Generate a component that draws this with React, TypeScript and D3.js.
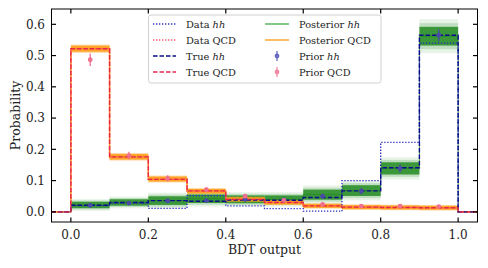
import * as d3 from 'd3';

// bin edges of the BDT output histogram
const binEdges = [0, 0.1, 0.2, 0.3, 0.4, 0.5, 0.6, 0.7, 0.8, 0.9, 1.0];
const binCenters = [0.05, 0.15, 0.25, 0.35, 0.45, 0.55, 0.65, 0.75, 0.85, 0.95];

const dataHh = [0.02, 0.028, 0.011, 0.052, 0.019, 0.01, 0.002, 0.1, 0.222, 0.54];
const dataQcd = [0.522, 0.176, 0.105, 0.066, 0.04, 0.03, 0.019, 0.015, 0.014, 0.013];
const trueHh = [0.021, 0.03, 0.036, 0.034, 0.038, 0.037, 0.046, 0.067, 0.141, 0.565];
const trueQcd = [0.522, 0.176, 0.104, 0.067, 0.04, 0.03, 0.019, 0.015, 0.014, 0.013];

const postHhMean = [0.022, 0.03, 0.036, 0.042, 0.04, 0.04, 0.055, 0.068, 0.139, 0.562];
const postHhSd = [0.009, 0.009, 0.012, 0.012, 0.011, 0.011, 0.014, 0.015, 0.017, 0.026];
const postQcdMean = [0.522, 0.176, 0.105, 0.066, 0.04, 0.03, 0.019, 0.015, 0.014, 0.013];
const postQcdSd = [0.012, 0.011, 0.01, 0.009, 0.008, 0.008, 0.008, 0.008, 0.008, 0.008];

const priorHh = [0.021, 0.028, 0.035, 0.036, 0.04, 0.038, 0.05, 0.066, 0.139, 0.565];
const priorHhErr = [0.006, 0.006, 0.006, 0.007, 0.007, 0.007, 0.008, 0.01, 0.013, 0.019];
const priorQcd = [0.487, 0.18, 0.107, 0.071, 0.05, 0.037, 0.024, 0.018, 0.018, 0.017];
const priorQcdErr = [0.02, 0.012, 0.01, 0.008, 0.007, 0.006, 0.005, 0.004, 0.004, 0.004];

const xTicks = [0, 0.2, 0.4, 0.6, 0.8, 1.0];
const yTicks = [0, 0.1, 0.2, 0.3, 0.4, 0.5, 0.6];

const W = 488, H = 268;
const L = 51.5, R = 477.5, T = 9, B = 222;

const C = {
  dataHh: '#2b2bc4',
  dataQcd: '#ff4f6e',
  trueHh: '#0b0b8c',
  trueQcd: '#e8264a',
  postHh: '#228b22',
  postQcd: '#ffa020',
  priorHh: '#4a4aa6',
  priorQcd: '#ef6f8f',
};

const font = '"DejaVu Serif", serif';

export default function App() {
  const x = d3.scaleLinear().domain([-0.05, 1.05]).range([L, R]);
  const y = d3.scaleLinear().domain([-0.0325, 0.649]).range([B, T]);

  const stepPath = (vals: number[]) => {
    const line = d3.line<[number, number]>().x(d => x(d[0])).y(d => y(d[1])).curve(d3.curveStepAfter);
    const pts: [number, number][] = [[-0.05, 0], [0, 0]];
    vals.forEach((v, i) => pts.push([binEdges[i], v]));
    pts.push([1.0, 0], [1.05, 0]);
    return line(pts) as string;
  };

  const bands = (mean: number[], sd: number[], color: string, layers: [number, number][]) =>
    layers.map(([k, op], li) => (
      <g key={li}>
        {mean.map((m, i) => (
          <rect key={i} x={x(binEdges[i])} width={x(binEdges[i + 1]) - x(binEdges[i])}
            y={y(m + k * sd[i])} height={y(m - k * sd[i]) - y(m + k * sd[i])}
            fill={color} opacity={op} />
        ))}
      </g>
    ));

  const points = (vals: number[], errs: number[], color: string) =>
    vals.map((v, i) => (
      <g key={i}>
        <line x1={x(binCenters[i])} x2={x(binCenters[i])} y1={y(v - errs[i])} y2={y(v + errs[i])}
          stroke={color} strokeWidth={1.3} />
        <circle cx={x(binCenters[i])} cy={y(v)} r={2.4} fill={color} />
      </g>
    ));

  const legendRows1 = [
    { label: 'Data ', it: 'hh', kind: 'dot', color: C.dataHh },
    { label: 'Data QCD', it: '', kind: 'dot', color: C.dataQcd },
    { label: 'True ', it: 'hh', kind: 'dash', color: C.trueHh },
    { label: 'True QCD', it: '', kind: 'dash', color: C.trueQcd },
  ];
  const legendRows2 = [
    { label: 'Posterior ', it: 'hh', kind: 'line', color: '#4caf50' },
    { label: 'Posterior QCD', it: '', kind: 'line', color: C.postQcd },
    { label: 'Prior ', it: 'hh', kind: 'pt', color: '#6a6abf' },
    { label: 'Prior QCD', it: '', kind: 'pt', color: '#f08aa4' },
  ];

  const handle = (kind: string, color: string, x0: number, x1: number, yy: number) => {
    if (kind === 'pt') {
      const cx = (x0 + x1) / 2;
      return (
        <g>
          <line x1={cx} x2={cx} y1={yy - 5} y2={yy + 5} stroke={color} strokeWidth={1.3} />
          <circle cx={cx} cy={yy} r={2.4} fill={color} />
        </g>
      );
    }
    const dash = kind === 'dot' ? '1.3,1.7' : kind === 'dash' ? '4.5,2' : undefined;
    return <line x1={x0} x2={x1} y1={yy} y2={yy} stroke={color} strokeWidth={1.4} strokeDasharray={dash} />;
  };

  const rowsY = [24, 40, 56, 72];

  return (
    <svg width={W} height={H} style={{ position: 'absolute', left: 0, top: 0, background: '#fff' }}>
      <defs>
        <clipPath id="plotclip">
          <rect x={L} y={T} width={R - L} height={B - T} />
        </clipPath>
      </defs>
      <g clipPath="url(#plotclip)">
        {bands(postHhMean, postHhSd, C.postHh, [[2.1, 0.1], [1.6, 0.2], [1.15, 0.85]])}
        {bands(postQcdMean, postQcdSd, C.postQcd, [[1.1, 0.4], [0.8, 0.95]])}
        <path d={stepPath(postHhMean)} fill="none" stroke={C.postHh} strokeWidth={1} opacity={0.8} />
        <path d={stepPath(postQcdMean)} fill="none" stroke={C.postQcd} strokeWidth={1.6} />
        <path d={stepPath(dataHh)} fill="none" stroke={C.dataHh} strokeWidth={1.3} strokeDasharray="1.3,1.7" />
        <path d={stepPath(dataQcd)} fill="none" stroke={C.dataQcd} strokeWidth={1.3} strokeDasharray="1.3,1.7" />
        <path d={stepPath(trueHh)} fill="none" stroke={C.trueHh} strokeWidth={1.4} strokeDasharray="4.5,2" />
        <path d={stepPath(trueQcd)} fill="none" stroke={C.trueQcd} strokeWidth={1.4} strokeDasharray="4.5,2" />
        {points(priorHh, priorHhErr, C.priorHh)}
        {points(priorQcd, priorQcdErr, C.priorQcd)}
      </g>

      {/* frame and ticks */}
      <rect x={L} y={T} width={R - L} height={B - T} fill="none" stroke="#000" strokeWidth={1} />
      {xTicks.map(t => (
        <g key={t}>
          <line x1={x(t)} x2={x(t)} y1={B} y2={B - 4.5} stroke="#000" strokeWidth={1.2} />
          <line x1={x(t)} x2={x(t)} y1={T} y2={T + 4.5} stroke="#000" strokeWidth={1.2} />
          <text x={x(t)} y={238.5} textAnchor="middle" fontFamily={font} fontSize={12} fill="#222">
            {t.toFixed(1)}
          </text>
        </g>
      ))}
      {yTicks.map(t => (
        <g key={t}>
          <line x1={L} x2={L + 4.5} y1={y(t)} y2={y(t)} stroke="#000" strokeWidth={1.2} />
          <line x1={R} x2={R - 4.5} y1={y(t)} y2={y(t)} stroke="#000" strokeWidth={1.2} />
          <text x={45} y={y(t) + 4.2} textAnchor="end" fontFamily={font} fontSize={12} fill="#222">
            {t.toFixed(1)}
          </text>
        </g>
      ))}
      <text x={(L + R) / 2} y={253.5} textAnchor="middle" fontFamily={font} fontSize={12.5} fill="#222">
        BDT output
      </text>
      <text transform={`translate(19.5, ${(T + B) / 2}) rotate(-90)`} textAnchor="middle"
        fontFamily={font} fontSize={12.5} fill="#222">
        Probability
      </text>

      {/* legend */}
      <rect x={148.5} y={15} width={232.5} height={68} rx={2.5} fill="#fff" fillOpacity={0.8}
        stroke="#d0d0d0" strokeWidth={1} />
      {legendRows1.map((r, i) => (
        <g key={'a' + i}>
          {handle(r.kind, r.color, 153, 176, rowsY[i])}
          <text x={186} y={rowsY[i] + 3.5} fontFamily={font} fontSize={9.8} fill="#222">
            {r.label}<tspan fontStyle="italic">{r.it}</tspan>
          </text>
        </g>
      ))}
      {legendRows2.map((r, i) => (
        <g key={'b' + i}>
          {handle(r.kind, r.color, 265, 289, rowsY[i])}
          <text x={299} y={rowsY[i] + 3.5} fontFamily={font} fontSize={9.8} fill="#222">
            {r.label}<tspan fontStyle="italic">{r.it}</tspan>
          </text>
        </g>
      ))}
    </svg>
  );
}
